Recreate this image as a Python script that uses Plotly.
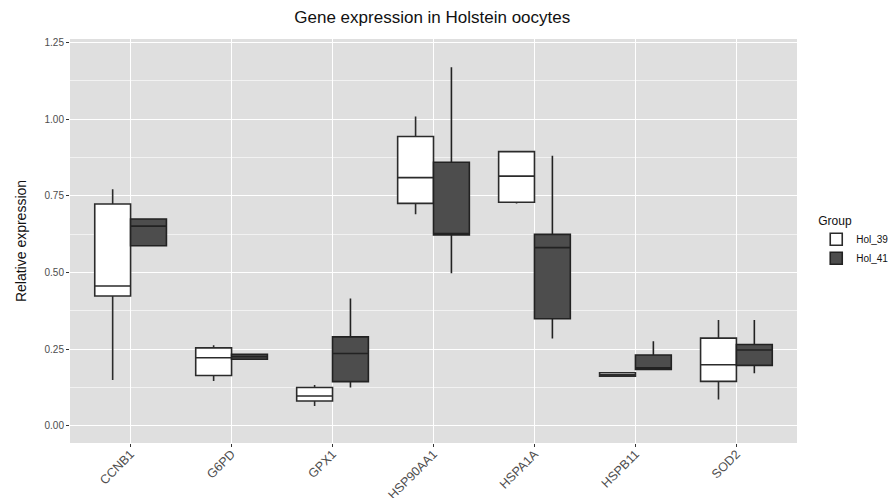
import plotly.graph_objects as go

genes = ["CCNB1", "G6PD", "GPX1", "HSP90AA1", "HSPA1A", "HSPB11", "SOD2"]

# Hol_39 box statistics
h39_low = [0.149, 0.146, 0.065, 0.690, 0.725, 0.162, 0.086]
h39_q1 = [0.423, 0.164, 0.081, 0.725, 0.729, 0.162, 0.145]
h39_med = [0.456, 0.222, 0.097, 0.809, 0.814, 0.166, 0.199]
h39_q3 = [0.723, 0.254, 0.125, 0.943, 0.894, 0.173, 0.286]
h39_high = [0.771, 0.263, 0.133, 1.008, 0.895, 0.173, 0.345]

# Hol_41 box statistics
h41_low = [0.587, 0.217, 0.125, 0.497, 0.285, 0.184, 0.171]
h41_q1 = [0.587, 0.217, 0.144, 0.622, 0.349, 0.184, 0.197]
h41_med = [0.651, 0.225, 0.236, 0.627, 0.581, 0.189, 0.247]
h41_q3 = [0.674, 0.233, 0.290, 0.859, 0.624, 0.231, 0.265]
h41_high = [0.674, 0.233, 0.415, 1.169, 0.880, 0.276, 0.345]

y_ticks = [0.0, 0.25, 0.5, 0.75, 1.0, 1.25]
y_tick_labels = ["0.00", "0.25", "0.50", "0.75", "1.00", "1.25"]

fig = go.Figure()
fig.add_trace(go.Box(
    name="Hol_39", x=genes, q1=h39_q1, median=h39_med, q3=h39_q3,
    lowerfence=h39_low, upperfence=h39_high,
    fillcolor="white", line=dict(color="#2B2B2B", width=1.6),
    whiskerwidth=0, boxpoints=False, hoverinfo="skip"))
fig.add_trace(go.Box(
    name="Hol_41", x=genes, q1=h41_q1, median=h41_med, q3=h41_q3,
    lowerfence=h41_low, upperfence=h41_high,
    fillcolor="#4D4D4D", line=dict(color="#222222", width=1.6),
    whiskerwidth=0, boxpoints=False, hoverinfo="skip"))

fig.update_layout(
    width=895, height=498,
    margin=dict(l=70, r=98, t=39, b=55),
    paper_bgcolor="white",
    plot_bgcolor="#DFDFDF",
    boxmode="group", boxgap=0.29, boxgroupgap=0,
    font=dict(family="Liberation Sans, Arial, sans-serif", color="#000000"),
    title=dict(text="Gene expression in Holstein oocytes", x=0.483, xanchor="center",
               y=0.966, yanchor="middle",
               font=dict(size=17, color="#111111")),
    legend=dict(
        title=dict(text="Group", font=dict(size=12, color="#111111")),
        xref="container", yref="container",
        x=0.912, xanchor="left", y=0.58, yanchor="top",
        font=dict(size=10, color="#111111"),
        bgcolor="rgba(0,0,0,0)", tracegroupgap=3, itemwidth=30),
    xaxis=dict(
        categoryorder="array", categoryarray=genes,
        range=[-0.6, 6.6], automargin=False,
        showgrid=True, gridcolor="white", gridwidth=1.3,
        zeroline=False, showline=False,
        ticks="outside", ticklen=3, tickcolor="#333333", tickwidth=1,
        ticklabelstandoff=-5,
        tickangle=-45, tickfont=dict(size=12.5, color="#4D4D4D")),
    yaxis=dict(
        range=[-0.056, 1.261], automargin=False,
        tickvals=y_ticks, ticktext=y_tick_labels,
        showgrid=True, gridcolor="white", gridwidth=1.3,
        minor=dict(dtick=0.125, tick0=0.125, showgrid=True, gridcolor="#F2F2F2", gridwidth=0.6, ticks=""),
        zeroline=False, showline=False,
        ticks="outside", ticklen=3, tickcolor="#333333", tickwidth=1,
        tickfont=dict(size=10, color="#4D4D4D"),
        title=dict(text="Relative expression", font=dict(size=14, color="#111111"), standoff=14)),
)

fig.write_html("out.html")
